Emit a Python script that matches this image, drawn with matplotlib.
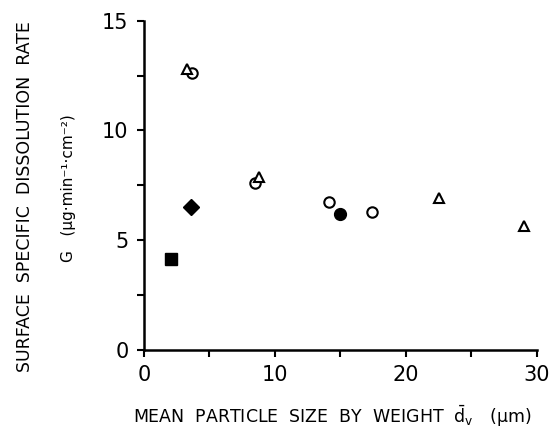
import matplotlib.pyplot as plt
from matplotlib.ticker import MultipleLocator

# open circles
circ_x = [3.7, 8.5, 14.1, 17.4]
circ_y = [12.6, 7.6, 6.75, 6.3]
# open triangles
tri_x = [3.3, 8.8, 22.5, 29.0]
tri_y = [12.8, 7.9, 6.9, 5.65]
# filled markers
fcirc_x, fcirc_y = [15.0], [6.2]
diam_x, diam_y = [3.6], [6.5]
sq_x, sq_y = [2.1], [4.15]

fig = plt.figure(figsize=(5.53, 4.33), dpi=100)
ax = fig.add_axes([0.260, 0.192, 0.711, 0.760])

ax.plot(circ_x, circ_y, 'o', ms=7.5, mfc='white', mec='black', mew=1.5, ls='none')
ax.plot(tri_x, tri_y, '^', ms=7.5, mfc='white', mec='black', mew=1.5, ls='none')
ax.plot(fcirc_x, fcirc_y, 'o', ms=8.5, color='black', ls='none')
ax.plot(diam_x, diam_y, 'D', ms=8.5, color='black', ls='none')
ax.plot(sq_x, sq_y, 's', ms=8.5, color='black', ls='none')

ax.set_xlim(0, 30)
ax.set_ylim(0, 15)
ax.xaxis.set_major_locator(MultipleLocator(10))
ax.xaxis.set_minor_locator(MultipleLocator(5))
ax.yaxis.set_major_locator(MultipleLocator(5))
ax.yaxis.set_minor_locator(MultipleLocator(2.5))
ax.tick_params(which='both', direction='out', length=5, width=1.5, labelsize=15, pad=6)

for s in ['top', 'right']:
    ax.spines[s].set_visible(False)
for s in ['left', 'bottom']:
    ax.spines[s].set_linewidth(1.8)

fig.text(0.045, 0.545, 'SURFACE  SPECIFIC  DISSOLUTION  RATE', rotation=90,
         ha='center', va='center', fontsize=12.5)
fig.text(0.123, 0.565, 'G   (μg·min⁻¹·cm⁻²)', rotation=90,
         ha='center', va='center', fontsize=11)
fig.text(0.60, 0.022, r'MEAN  PARTICLE  SIZE  BY  WEIGHT  $\bar{\mathrm{d}}_\mathrm{v}$   (μm)',
         ha='center', va='baseline', fontsize=12.5)

fig.savefig('out.png', dpi=100)
